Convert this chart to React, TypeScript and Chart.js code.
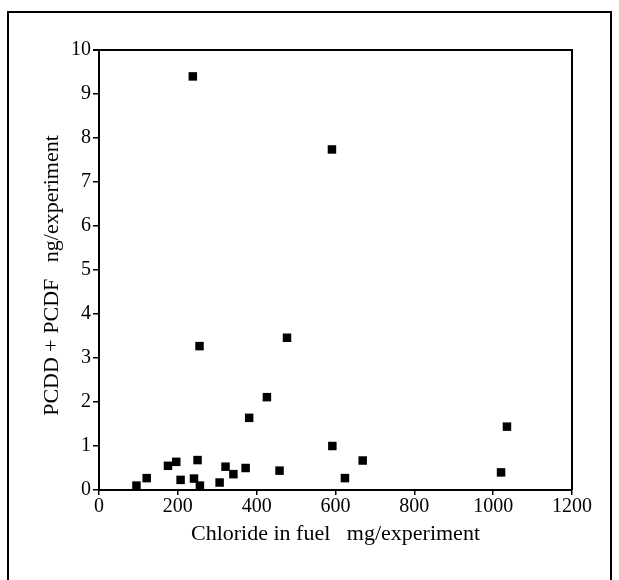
import React, { useEffect, useRef } from "react";
import { Chart, registerables } from "chart.js";

Chart.register(...registerables);

const chlorideX: number[] = [238, 591, 255, 477, 426, 381, 592, 1035, 1020, 669, 624, 458, 372, 341, 321, 306, 250, 241, 256, 207, 196, 175, 121, 95];
const pcddY: number[] = [9.4, 7.74, 3.27, 3.46, 2.11, 1.64, 1.0, 1.44, 0.4, 0.67, 0.27, 0.44, 0.5, 0.36, 0.53, 0.17, 0.68, 0.26, 0.1, 0.23, 0.64, 0.55, 0.27, 0.1];

const xTicks: number[] = [0, 200, 400, 600, 800, 1000, 1200];
const yTicks: number[] = [0, 1, 2, 3, 4, 5, 6, 7, 8, 9, 10];

const xTitle = "Chloride in fuel   mg/experiment";
const yTitle = "PCDD + PCDF   ng/experiment  ";

const SERIF = "'Liberation Serif', 'Times New Roman', serif";

const framePlugin = {
  id: "framePlugin",
  afterDraw(chart: any) {
    const { ctx, chartArea } = chart;
    ctx.save();
    ctx.strokeStyle = "#000";
    ctx.lineWidth = 2;
    // plot box top + right
    ctx.beginPath();
    ctx.moveTo(chartArea.left - 6, chartArea.top);
    ctx.lineTo(chartArea.right, chartArea.top);
    ctx.lineTo(chartArea.right, chartArea.bottom);
    ctx.stroke();
    // outer frame
    ctx.beginPath();
    ctx.moveTo(8, 600);
    ctx.lineTo(8, 12);
    ctx.lineTo(611, 12);
    ctx.lineTo(611, 600);
    ctx.stroke();
    ctx.restore();
  },
};

export default function App() {
  const ref = useRef<HTMLCanvasElement | null>(null);
  useEffect(() => {
    if (!ref.current) return;
    const data = chlorideX.map((x, i) => ({ x, y: pcddY[i] }));
    const chart = new Chart(ref.current, {
      type: "scatter",
      data: {
        datasets: [
          {
            data,
            pointStyle: "rect",
            pointRadius: 6,
            pointBackgroundColor: "#000",
            pointBorderWidth: 0,
            showLine: false,
          },
        ],
      },
      options: {
        animation: false,
        responsive: false,
        devicePixelRatio: 1,
        layout: { padding: { left: 0, top: 50, right: 47, bottom: 0 } },
        plugins: { legend: { display: false }, tooltip: { enabled: false } },
        scales: {
          x: {
            type: "linear",
            min: 0,
            max: 1200,
            afterFit: (s: any) => {
              s.height = 90;
            },
            afterBuildTicks: (s: any) => {
              s.ticks = xTicks.map((v) => ({ value: v }));
            },
            border: { display: true, color: "#000", width: 2 },
            grid: { drawOnChartArea: false, drawTicks: true, tickLength: 5, color: "#000", lineWidth: 1.5 },
            ticks: {
              color: "#000",
              font: { family: SERIF, size: 20 },
              padding: 0,
              maxRotation: 0,
              callback: (v: any) => String(v),
            },
            title: {
              display: true,
              text: xTitle,
              color: "#000",
              font: { family: SERIF, size: 22 },
              padding: { top: 0, bottom: 33 },
            },
          },
          y: {
            type: "linear",
            min: 0,
            max: 10,
            afterFit: (s: any) => {
              s.width = 99;
            },
            afterBuildTicks: (s: any) => {
              s.ticks = yTicks.map((v) => ({ value: v }));
            },
            border: { display: true, color: "#000", width: 2 },
            grid: { drawOnChartArea: false, drawTicks: true, tickLength: 6, color: "#000", lineWidth: 1.5 },
            ticks: {
              color: "#000",
              font: { family: SERIF, size: 20 },
              padding: 2,
              callback: (v: any) => String(v),
            },
            title: {
              display: true,
              text: yTitle,
              color: "#000",
              font: { family: SERIF, size: 22 },
              padding: { top: 39, bottom: 0 },
            },
          },
        },
      },
      plugins: [framePlugin],
    });
    return () => chart.destroy();
  }, []);
  return (
    <div style={{ position: "fixed", left: 0, top: 0, width: 619, height: 580, background: "#fff" }}>
      <canvas ref={ref} width={619} height={580} style={{ width: 619, height: 580, display: "block" }} />
    </div>
  );
}
